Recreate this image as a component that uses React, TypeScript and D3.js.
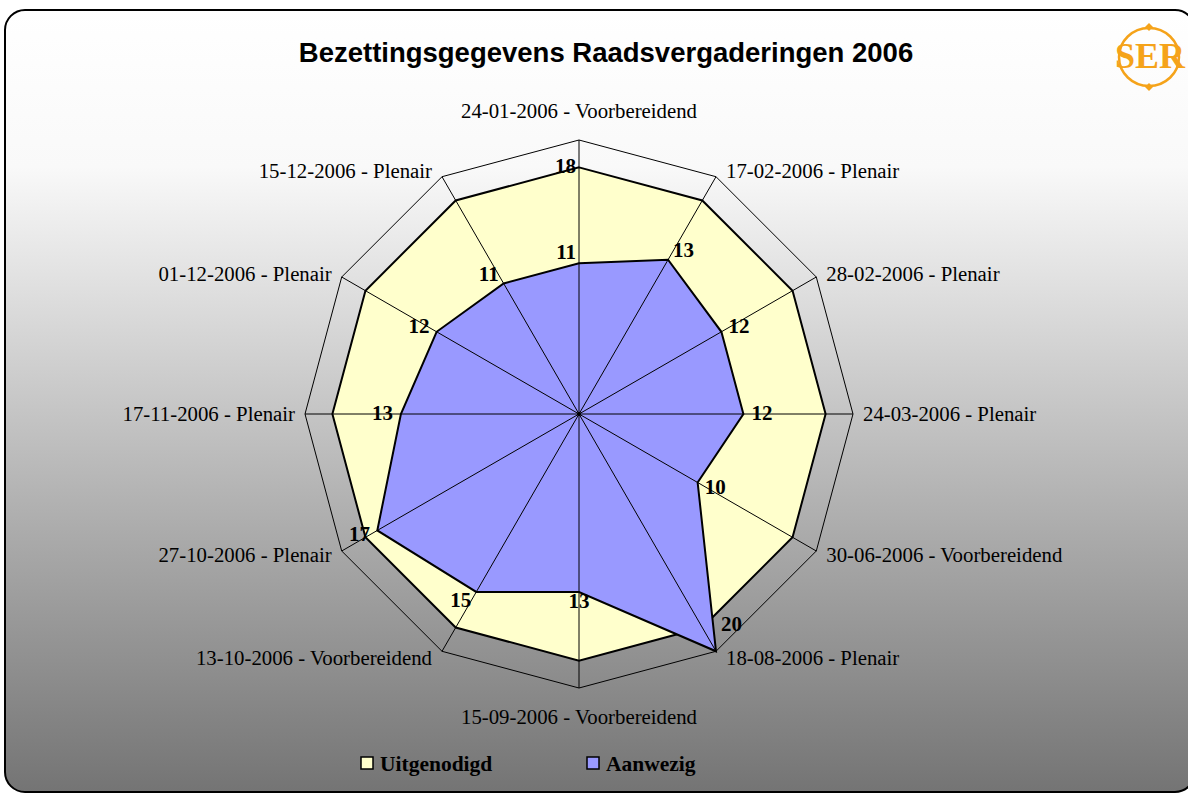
import { useEffect, useRef } from 'react'
import * as d3 from 'd3'

// categorieën (vergaderingen), met de klok mee vanaf boven
const categories = [
  '24-01-2006 - Voorbereidend',
  '17-02-2006 - Plenair',
  '28-02-2006 - Plenair',
  '24-03-2006 - Plenair',
  '30-06-2006 - Voorbereidend',
  '18-08-2006 - Plenair',
  '15-09-2006 - Voorbereidend',
  '13-10-2006 - Voorbereidend',
  '27-10-2006 - Plenair',
  '17-11-2006 - Plenair',
  '01-12-2006 - Plenair',
  '15-12-2006 - Plenair',
]
const uitgenodigd = [18, 18, 18, 18, 18, 18, 18, 18, 18, 18, 18, 18]
const aanwezig = [11, 13, 12, 12, 10, 20, 13, 15, 17, 13, 12, 11]
const uitgenodigdLabels = [0] // alleen eerste punt heeft een label
const radialDomain = [0, 20]

const W = 1188
const H = 794
const CX = 579
const CY = 414
const R = 274
const YELLOW = '#FFFFCC'
const PURPLE = '#9999FF'
const SERIF = '"Liberation Serif", "Times New Roman", serif'

export default function App() {
  const svgRef = useRef<SVGSVGElement>(null)

  useEffect(() => {
    const svg = d3.select(svgRef.current)
    svg.selectAll('*').remove()
    svg.attr('viewBox', `0 0 ${W} ${H}`).attr('width', W).attr('height', H)

    // ── achtergrond ──
    const defs = svg.append('defs')
    const grad = defs.append('linearGradient').attr('id', 'bg')
      .attr('x1', 0).attr('x2', 0).attr('y1', 0).attr('y2', 1)
    grad.append('stop').attr('offset', '0').attr('stop-color', '#ffffff')
    grad.append('stop').attr('offset', '0.2').attr('stop-color', '#f9f9f9')
    grad.append('stop').attr('offset', '1').attr('stop-color', '#747474')

    svg.append('rect')
      .attr('x', 5).attr('y', 10).attr('width', W + 2).attr('height', 782)
      .attr('rx', 20).attr('fill', 'url(#bg)')
      .attr('stroke', '#000').attr('stroke-width', 2)

    // ── titel ──
    svg.append('text')
      .attr('x', 606).attr('y', 62).attr('text-anchor', 'middle')
      .attr('font-family', '"Liberation Sans", Arial, sans-serif')
      .attr('font-weight', 700).attr('font-size', 27.5).attr('fill', '#000')
      .text('Bezettingsgegevens Raadsvergaderingen 2006')

    // ── SER logo ──
    const logo = svg.append('g').attr('fill', '#F5A31A')
    logo.append('ellipse')
      .attr('cx', 1149).attr('cy', 57).attr('rx', 30).attr('ry', 29)
      .attr('fill', 'none').attr('stroke', '#F5A31A').attr('stroke-width', 2.5)
    ;[27, 87].forEach((y) => {
      logo.append('path').attr('d', `M1149,${y - 4}L1153,${y}L1149,${y + 4}L1145,${y}Z`)
    })
    logo.append('text')
      .attr('x', 1150).attr('y', 68).attr('text-anchor', 'middle')
      .attr('font-family', SERIF).attr('font-weight', 700).attr('font-size', 36)
      .attr('textLength', 70).attr('lengthAdjust', 'spacingAndGlyphs')
      .text('SER')

    // ── radar ──
    const n = categories.length
    const angle = d3.scaleLinear().domain([0, n]).range([0, 2 * Math.PI])
    const r = d3.scaleLinear().domain(radialDomain).range([0, R])
    const g = svg.append('g').attr('transform', `translate(${CX},${CY})`)

    const radial = d3.lineRadial<number>()
      .angle((_, i) => angle(i))
      .radius((d) => r(d))
      .curve(d3.curveLinearClosed)
    const pt = (i: number, v: number) => {
      const a = angle(i)
      return [r(v) * Math.sin(a), -r(v) * Math.cos(a)]
    }

    // buitenste ring
    g.append('path').datum(categories.map(() => radialDomain[1])).attr('d', radial)
      .attr('fill', 'none').attr('stroke', '#000').attr('stroke-width', 1)

    // series
    g.append('path').datum(uitgenodigd).attr('d', radial)
      .attr('fill', YELLOW).attr('stroke', '#000').attr('stroke-width', 2)
    g.append('path').datum(aanwezig).attr('d', radial)
      .attr('fill', PURPLE).attr('stroke', '#000').attr('stroke-width', 2)

    // spaken
    categories.forEach((_, i) => {
      const [x, y] = pt(i, radialDomain[1])
      g.append('line').attr('x1', 0).attr('y1', 0).attr('x2', x).attr('y2', y)
        .attr('stroke', '#000').attr('stroke-width', 1)
    })
    g.append('circle').attr('r', 2).attr('fill', '#000')

    // categorielabels
    categories.forEach((c, i) => {
      const a = angle(i)
      const s = Math.sin(a), co = Math.cos(a)
      const [x, y] = pt(i, radialDomain[1])
      const side = Math.abs(s) < 0.01
      g.append('text')
        .attr('x', side ? x : x + (s > 0 ? 10 : -10))
        .attr('y', side ? y - co * 29 : y - co * 7)
        .attr('dy', '0.35em')
        .attr('text-anchor', side ? 'middle' : s > 0 ? 'start' : 'end')
        .attr('font-family', SERIF).attr('font-size', 20.8).attr('fill', '#000')
        .text(c)
    })

    // datalabels
    const valueLabel = (i: number, v: number, extraDy = 0) => {
      const a = angle(i)
      const s = Math.sin(a), co = Math.cos(a)
      const [x, y] = pt(i, v)
      const top = Math.abs(s) < 0.01 && co > 0
      const bottom = Math.abs(s) < 0.01 && co < 0
      let dy = 6 - 10 * co
      // punt op de buitenring: label erboven
      if (v >= radialDomain[1] && co < 0) dy = -20
      g.append('text')
        .attr('x', top ? x - 3 : bottom ? x : x + Math.sign(s) * (2 + 6 * Math.abs(s)))
        .attr('y', y + dy + extraDy)
        .attr('text-anchor', top ? 'end' : bottom ? 'middle' : s > 0 ? 'start' : 'end')
        .attr('font-family', SERIF).attr('font-weight', 700).attr('font-size', 21)
        .attr('fill', '#000')
        .text(v)
    }
    aanwezig.forEach((v, i) => valueLabel(i, v))
    uitgenodigdLabels.forEach((i) => valueLabel(i, uitgenodigd[i], 10))

    // ── legenda ──
    const legend = [
      { label: 'Uitgenodigd', color: YELLOW, x: 361 },
      { label: 'Aanwezig', color: PURPLE, x: 587 },
    ]
    legend.forEach((d) => {
      svg.append('rect').attr('x', d.x).attr('y', 757).attr('width', 12).attr('height', 12)
        .attr('fill', d.color).attr('stroke', '#000').attr('stroke-width', 1.5)
      svg.append('text').attr('x', d.x + 19).attr('y', 771)
        .attr('font-family', SERIF).attr('font-weight', 700).attr('font-size', 21.5)
        .attr('fill', '#000').text(d.label)
    })
  }, [])

  return (
    <svg ref={svgRef} style={{ position: 'absolute', left: 0, top: 0, display: 'block' }} />
  )
}
